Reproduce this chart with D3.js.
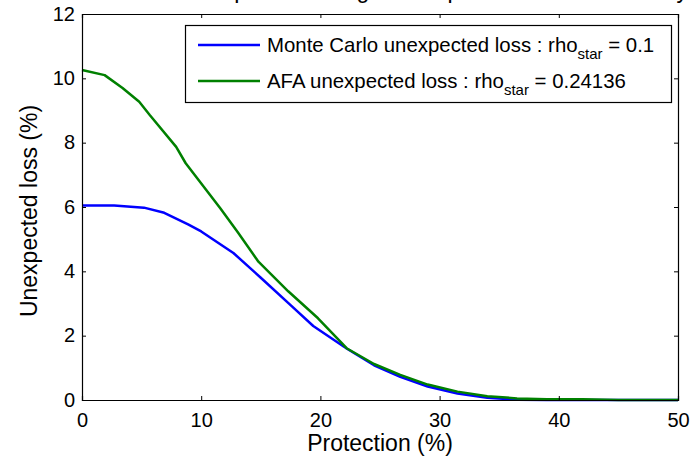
<!DOCTYPE html>
<html>
<head>
<meta charset="utf-8">
<script src="https://cdn.jsdelivr.net/npm/d3@7/dist/d3.min.js"></script>
<style>
  html, body { margin: 0; padding: 0; background: #fff; }
  svg { display: block; font-family: Arial, "Liberation Sans", sans-serif; }
</style>
</head>
<body>
<svg id="chart" width="691" height="459"></svg>
<script>
// Protection level (%) and unexpected loss (%) for each method
const mcProtection = [0, 2.7, 5.2, 6.9, 8.9, 10.0, 12.7, 15, 17.5, 19.4, 22.2, 24.5, 26.7, 29, 31.5, 34, 36.5, 39, 42, 45, 50];
const mcLoss       = [6.05, 6.05, 5.98, 5.82, 5.46, 5.24, 4.57, 3.80, 2.95, 2.30, 1.60, 1.08, 0.72, 0.42, 0.20, 0.07, 0.01, 0, 0, 0, 0];

const afaProtection = [0, 1.9, 3.4, 4.8, 5.7, 7.9, 8.7, 11.6, 13.1, 14.8, 17.3, 19.8, 22.2, 24.5, 26.7, 29, 31.5, 34, 36.5, 39, 42, 45, 50];
const afaLoss       = [10.26, 10.1, 9.7, 9.27, 8.85, 7.87, 7.36, 5.96, 5.2, 4.3, 3.38, 2.54, 1.61, 1.12, 0.78, 0.48, 0.26, 0.12, 0.05, 0.02, 0.02, 0, 0];

const xTicks = [0, 10, 20, 30, 40, 50];
const yTicks = [0, 2, 4, 6, 8, 10, 12];

const legendEntries = [
  { name: "Monte Carlo unexpected loss : rho", sub: "star", value: " = 0.1", color: "#0000ff" },
  { name: "AFA unexpected loss : rho", sub: "star", value: " = 0.24136", color: "#008000" }
];

const titleText = "Credit loss vs protection against a portfolio default density";
const xLabel = "Protection (%)";
const yLabel = "Unexpected loss (%)";

const svg = d3.select("#chart");
const margin = { left: 82, right: 13, top: 14, bottom: 59 };
const W = 691, H = 459;

const x = d3.scaleLinear().domain([0, 50]).range([margin.left, W - margin.right]);
const y = d3.scaleLinear().domain([0, 12]).range([H - margin.bottom, margin.top]);

// title, mostly above the visible area
svg.append("text")
  .attr("x", (x(0) + x(50)) / 2 + 6)
  .attr("y", -2)
  .attr("text-anchor", "middle")
  .attr("font-size", 23)
  .attr("word-spacing", 2)
  .attr("fill", "#000")
  .text(titleText);

// series
const line = d3.line().x(d => x(d[0])).y(d => y(d[1]));
const series = [
  { px: mcProtection, py: mcLoss, color: "#0000ff" },
  { px: afaProtection, py: afaLoss, color: "#008000" }
];
svg.append("g").selectAll("path")
  .data(series)
  .join("path")
  .attr("d", s => line(s.px.map((v, i) => [v, s.py[i]])))
  .attr("fill", "none")
  .attr("stroke", s => s.color)
  .attr("stroke-width", 2.5)
  .attr("stroke-linejoin", "round");

// axes with inward ticks on all four sides
const tickLen = 4;
const axisBottom = svg.append("g").attr("transform", `translate(0,${y(0)})`)
  .call(d3.axisBottom(x).tickValues(xTicks).tickSize(-tickLen).tickPadding(13).tickFormat(d3.format("d")));
const axisTop = svg.append("g").attr("transform", `translate(0,${y(12)})`)
  .call(d3.axisTop(x).tickValues(xTicks).tickSize(-tickLen).tickFormat(""));
const axisLeft = svg.append("g").attr("transform", `translate(${x(0)},0)`)
  .call(d3.axisLeft(y).tickValues(yTicks).tickSize(-tickLen).tickPadding(7).tickFormat(d3.format("d")));
const axisRight = svg.append("g").attr("transform", `translate(${x(50)},0)`)
  .call(d3.axisRight(y).tickValues(yTicks).tickSize(-tickLen).tickFormat(""));

[axisBottom, axisTop, axisLeft, axisRight].forEach(g => {
  g.select(".domain").attr("stroke", "#000").attr("stroke-width", 1.2);
  g.selectAll(".tick line").attr("stroke", "#000");
  g.selectAll(".tick text").attr("font-size", 20).attr("fill", "#000")
    .attr("font-family", 'Arial, "Liberation Sans", sans-serif');
});
axisLeft.selectAll(".tick text").attr("dy", "0.3em");

// axis labels
svg.append("text")
  .attr("x", (x(0) + x(50)) / 2)
  .attr("y", 451)
  .attr("text-anchor", "middle")
  .attr("font-size", 23)
  .text(xLabel);

svg.append("text")
  .attr("transform", `translate(37,${(y(0) + y(12)) / 2 + 4}) rotate(-90)`)
  .attr("text-anchor", "middle")
  .attr("font-size", 23)
  .text(yLabel);

// legend
const lg = svg.append("g");
lg.append("rect")
  .attr("x", 185.5).attr("y", 25.5)
  .attr("width", 486).attr("height", 77)
  .attr("fill", "#fff").attr("stroke", "#000").attr("stroke-width", 1.2);

const rows = lg.selectAll("g.entry")
  .data(legendEntries)
  .join("g")
  .attr("class", "entry")
  .attr("transform", (d, i) => `translate(0,${45 + i * 36})`);

rows.append("line")
  .attr("x1", 198).attr("x2", 260)
  .attr("y1", 0).attr("y2", 0)
  .attr("stroke", d => d.color)
  .attr("stroke-width", 2.5);

const lt = rows.append("text")
  .attr("x", 267).attr("y", 7)
  .attr("font-size", 20.4)
  .attr("fill", "#000");
lt.append("tspan").text(d => d.name);
lt.append("tspan").attr("font-size", 15).attr("dy", 7).text(d => d.sub);
lt.append("tspan").attr("dy", -7).text(d => d.value);
</script>
</body>
</html>
